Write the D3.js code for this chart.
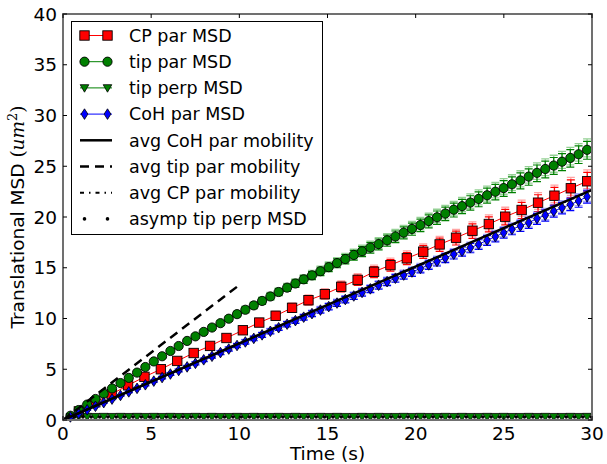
<!DOCTYPE html>
<html>
<head>
<meta charset="utf-8">
<script src="https://cdn.jsdelivr.net/npm/d3@7"></script>
<style>
  body { margin: 0; background: #fff; }
  svg { display: block; font-family: "DejaVu Sans", sans-serif; }
</style>
</head>
<body>
<svg id="chart" width="607" height="464"></svg>
<script>
// Translational MSD vs time — tip / CP / CoH series with error bars,
// plus the fitted mobility lines.

const xTicks = [0, 5, 10, 15, 20, 25, 30];
const yTicks = [0, 5, 10, 15, 20, 25, 30, 35, 40];

// sample times shared by tip par, tip perp and CoH par
const sampleT = [0.42, 0.89, 1.37, 1.84, 2.31, 2.78, 3.26, 3.73, 4.20, 4.67,
  5.15, 5.62, 6.09, 6.56, 7.04, 7.51, 7.98, 8.45, 8.93, 9.40,
  9.87, 10.34, 10.82, 11.29, 11.76, 12.23, 12.71, 13.18, 13.65, 14.12,
  14.60, 15.07, 15.54, 16.01, 16.49, 16.96, 17.43, 17.90, 18.38, 18.85,
  19.32, 19.79, 20.27, 20.74, 21.21, 21.68, 22.16, 22.63, 23.10, 23.57,
  24.05, 24.52, 24.99, 25.46, 25.94, 26.41, 26.88, 27.35, 27.83, 28.30,
  28.77, 29.24, 29.72];

const tipParMSD = [0.42, 0.98, 1.52, 2.07, 2.59, 3.11, 3.64, 4.15, 4.67, 5.22,
  5.77, 6.28, 6.80, 7.29, 7.79, 8.24, 8.68, 9.11, 9.54, 9.98,
  10.43, 10.86, 11.29, 11.73, 12.17, 12.61, 13.04, 13.45, 13.86, 14.25,
  14.66, 15.06, 15.46, 15.86, 16.26, 16.62, 16.99, 17.33, 17.70, 18.08,
  18.46, 18.83, 19.21, 19.60, 19.97, 20.34, 20.72, 21.07, 21.42, 21.78,
  22.14, 22.49, 22.85, 23.22, 23.60, 23.98, 24.35, 24.73, 25.07, 25.45,
  25.82, 26.18, 26.62];
const tipParErr = [0.02, 0.03, 0.04, 0.05, 0.06, 0.08, 0.09, 0.10, 0.11, 0.13,
  0.14, 0.16, 0.17, 0.18, 0.20, 0.21, 0.22, 0.24, 0.25, 0.27,
  0.28, 0.30, 0.31, 0.33, 0.34, 0.36, 0.37, 0.39, 0.40, 0.42,
  0.43, 0.45, 0.46, 0.48, 0.50, 0.52, 0.54, 0.56, 0.58, 0.60,
  0.62, 0.63, 0.65, 0.67, 0.69, 0.70, 0.72, 0.74, 0.75, 0.77,
  0.78, 0.80, 0.81, 0.82, 0.83, 0.85, 0.86, 0.87, 0.88, 0.89,
  0.90, 0.91, 0.93];

const cohParMSD = [0.30, 0.64, 1.00, 1.35, 1.71, 2.06, 2.42, 2.77, 3.12, 3.47,
  3.83, 4.18, 4.53, 4.88, 5.23, 5.58, 5.93, 6.28, 6.64, 6.99,
  7.34, 7.69, 8.04, 8.39, 8.74, 9.09, 9.44, 9.79, 10.13, 10.48,
  10.83, 11.17, 11.52, 11.87, 12.22, 12.57, 12.92, 13.28, 13.63, 13.97,
  14.28, 14.58, 14.93, 15.28, 15.62, 15.97, 16.33, 16.62, 16.97, 17.31,
  17.71, 18.07, 18.45, 18.79, 19.12, 19.44, 19.85, 20.18, 20.57, 20.91,
  21.23, 21.58, 22.00];
const cohParErr = [0.01, 0.02, 0.03, 0.04, 0.05, 0.06, 0.07, 0.08, 0.09, 0.10,
  0.11, 0.12, 0.13, 0.14, 0.15, 0.16, 0.17, 0.18, 0.19, 0.20,
  0.21, 0.22, 0.23, 0.24, 0.25, 0.26, 0.27, 0.28, 0.29, 0.30,
  0.31, 0.32, 0.33, 0.34, 0.35, 0.36, 0.37, 0.38, 0.39, 0.40,
  0.41, 0.42, 0.43, 0.44, 0.45, 0.46, 0.47, 0.48, 0.49, 0.50,
  0.51, 0.52, 0.53, 0.54, 0.55, 0.56, 0.57, 0.58, 0.59, 0.60,
  0.61, 0.62, 0.63];

const tipPerpMSD = [0.30, 0.33, 0.34, 0.33, 0.34, 0.33, 0.34, 0.33, 0.34, 0.33,
  0.34, 0.33, 0.34, 0.33, 0.33, 0.34, 0.33, 0.34, 0.33, 0.33,
  0.34, 0.33, 0.34, 0.33, 0.33, 0.34, 0.33, 0.34, 0.33, 0.33,
  0.34, 0.33, 0.34, 0.33, 0.33, 0.34, 0.33, 0.34, 0.33, 0.33,
  0.34, 0.33, 0.34, 0.33, 0.33, 0.34, 0.33, 0.34, 0.33, 0.33,
  0.34, 0.33, 0.34, 0.33, 0.33, 0.34, 0.33, 0.34, 0.33, 0.33,
  0.34, 0.33, 0.34];

// CP par is sampled at its own times
const cpT = [0.90, 1.83, 2.76, 3.69, 4.62, 5.55, 6.48, 7.41, 8.34, 9.27,
  10.20, 11.13, 12.06, 12.99, 13.92, 14.85, 15.78, 16.71, 17.64, 18.57,
  19.50, 20.43, 21.36, 22.29, 23.22, 24.15, 25.08, 26.01, 26.94, 27.87,
  28.80, 29.73];
const cpParMSD = [0.85, 1.75, 2.55, 3.42, 4.25, 5.00, 5.82, 6.60, 7.30, 8.08,
  8.84, 9.60, 10.27, 11.05, 11.80, 12.40, 13.12, 13.80, 14.60, 15.26,
  15.93, 16.58, 17.30, 17.96, 18.65, 19.31, 20.03, 20.69, 21.41, 22.10,
  22.83, 23.52];
const cpParErr = [0.03, 0.06, 0.09, 0.12, 0.15, 0.18, 0.21, 0.24, 0.27, 0.30,
  0.33, 0.36, 0.39, 0.42, 0.45, 0.48, 0.51, 0.54, 0.57, 0.60,
  0.63, 0.66, 0.69, 0.72, 0.75, 0.78, 0.81, 0.84, 0.87, 0.90,
  0.93, 0.97];

// asymptotic tip perp MSD, drawn as dots
const asympT = [0.66, 1.13, 1.60, 2.08, 2.55, 3.02, 3.49, 3.97, 4.44, 4.91,
  5.38, 5.86, 6.33, 6.80, 7.27, 7.75, 8.22, 8.69, 9.16, 9.64,
  10.11, 10.58, 11.05, 11.53, 12.00, 12.47, 12.94, 13.42, 13.89, 14.36,
  14.83, 15.31, 15.78, 16.25, 16.72, 17.20, 17.67, 18.14, 18.61, 19.09,
  19.56, 20.03, 20.50, 20.98, 21.45, 21.92, 22.39, 22.87, 23.34, 23.81,
  24.28, 24.76, 25.23, 25.70, 26.17, 26.65, 27.12, 27.59, 28.06, 28.54,
  29.01, 29.48, 29.95];
const asympTipPerp = 0.3;

// fitted mobility lines: [t, MSD] endpoints
const cohMobility = [[0, 0], [30, 22.68]];
const tipMobility = [[0, 0], [10, 13.3]];
const cpMobility = [[0, 0], [10, 7.56]];

const legendLabels = ["CP par MSD", "tip par MSD", "tip perp MSD", "CoH par MSD",
  "avg CoH par mobility", "avg tip par mobility", "avg CP par mobility",
  "asymp tip perp MSD"];

const M = { left: 63, right: 592, top: 14, bottom: 420 };
const TICK_FONT = 18.5;
const LEGEND_FONT = 17.5;

const svg = d3.select("#chart");
const x = d3.scaleLinear().domain([0, 30]).range([M.left, M.right]);
const y = d3.scaleLinear().domain([0, 40]).range([M.bottom, M.top]);

const GREEN = "#008000";
const RED = "#ff0000";
const BLUE = "#0000ff";

const zip = (ts, vs, es) => ts.map((t, i) => ({ t, v: vs[i], e: es ? es[i] : 0 }));
const tipPar = zip(sampleT, tipParMSD, tipParErr);
const cohPar = zip(sampleT, cohParMSD, cohParErr);
const tipPerp = zip(sampleT, tipPerpMSD);
const cpPar = zip(cpT, cpParMSD, cpParErr);

const lineGen = d3.line().x((d) => x(d.t)).y((d) => y(d.v));
const segGen = d3.line().x((d) => x(d[0])).y((d) => y(d[1]));

const plot = svg.append("g");

// ---------- marker shapes ----------
function drawMarker(g, kind, fill) {
  if (kind === "square") {
    g.append("rect").attr("x", -4.7).attr("y", -4.7).attr("width", 9.4).attr("height", 9.4)
      .attr("fill", fill).attr("stroke", "#000").attr("stroke-width", 0.9);
  } else if (kind === "circle") {
    g.append("circle").attr("r", 4.6)
      .attr("fill", fill).attr("stroke", "#000").attr("stroke-width", 0.9);
  } else if (kind === "tri") {
    g.append("path").attr("d", "M-4.3,-3.2L4.3,-3.2L0,4.3Z")
      .attr("fill", fill).attr("stroke", "#000").attr("stroke-width", 0.8);
  } else if (kind === "diamond") {
    g.append("path").attr("d", "M0,-5.3L3.4,0L0,5.3L-3.4,0Z")
      .attr("fill", fill).attr("stroke", "#000").attr("stroke-width", 0.8);
  } else if (kind === "dot") {
    g.append("circle").attr("r", 1.8).attr("fill", "#000");
  }
}

function errorBars(data, color, light) {
  const g = plot.append("g");
  const cap = 4;
  // lighter translucent layer slightly shifted upward
  data.forEach((d) => {
    if (d.e <= 0) return;
    const lo = y(d.v - 0.75 * d.e), hi = y(d.v + 1.15 * d.e), cx = x(d.t);
    g.append("path")
      .attr("d", `M${cx},${lo}V${hi}M${cx - cap},${lo}H${cx + cap}M${cx - cap},${hi}H${cx + cap}`)
      .attr("stroke", light).attr("stroke-width", 1.3).attr("fill", "none");
  });
  data.forEach((d) => {
    if (d.e <= 0) return;
    const lo = y(d.v - d.e), hi = y(d.v + 0.9 * d.e), cx = x(d.t);
    g.append("path")
      .attr("d", `M${cx},${lo}V${hi}M${cx - cap},${lo}H${cx + cap}M${cx - cap},${hi}H${cx + cap}`)
      .attr("stroke", color).attr("stroke-width", 1.2).attr("fill", "none");
  });
}

function series(data, color, kind, fill) {
  plot.append("path").datum(data).attr("d", lineGen)
    .attr("fill", "none").attr("stroke", color).attr("stroke-width", 1);
  const g = plot.append("g");
  data.forEach((d) => {
    const m = g.append("g").attr("transform", `translate(${x(d.t)},${y(d.v)})`);
    drawMarker(m, kind, fill);
  });
}

// ---------- data layers ----------
errorBars(cpPar, RED, "rgba(255,90,90,0.55)");
series(cpPar, RED, "square", RED);

errorBars(tipPar, GREEN, "rgba(60,170,60,0.55)");
series(tipPar, GREEN, "circle", GREEN);

series(tipPerp, GREEN, "tri", GREEN);

errorBars(cohPar, BLUE, "rgba(90,90,255,0.55)");
series(cohPar, BLUE, "diamond", BLUE);

plot.append("path").datum(cpMobility).attr("d", segGen)
  .attr("fill", "none").attr("stroke", "#000").attr("stroke-width", 2)
  .attr("stroke-dasharray", "7,3,2,3");
plot.append("path").datum(cohMobility).attr("d", segGen)
  .attr("fill", "none").attr("stroke", "#000").attr("stroke-width", 2.5);
plot.append("path").datum(tipMobility).attr("d", segGen)
  .attr("fill", "none").attr("stroke", "#000").attr("stroke-width", 2.5)
  .attr("stroke-dasharray", "9,6");

const dotG = plot.append("g");
asympT.forEach((t) => {
  const m = dotG.append("g").attr("transform", `translate(${x(t)},${y(asympTipPerp)})`);
  drawMarker(m, "dot");
});

// ---------- frame & ticks ----------
const frame = svg.append("g");
frame.append("rect")
  .attr("x", M.left).attr("y", M.top)
  .attr("width", M.right - M.left).attr("height", M.bottom - M.top)
  .attr("fill", "none").attr("stroke", "#707070").attr("stroke-width", 2);

const TL = 4;
xTicks.forEach((t) => {
  frame.append("line").attr("x1", x(t)).attr("x2", x(t))
    .attr("y1", M.bottom).attr("y2", M.bottom - TL).attr("stroke", "#000");
  frame.append("line").attr("x1", x(t)).attr("x2", x(t))
    .attr("y1", M.top).attr("y2", M.top + TL).attr("stroke", "#000");
  frame.append("text").attr("x", x(t)).attr("y", M.bottom + 20)
    .attr("text-anchor", "middle").attr("font-size", TICK_FONT).text(t);
});
yTicks.forEach((v) => {
  frame.append("line").attr("x1", M.left).attr("x2", M.left + TL)
    .attr("y1", y(v)).attr("y2", y(v)).attr("stroke", "#000");
  frame.append("line").attr("x1", M.right).attr("x2", M.right - TL)
    .attr("y1", y(v)).attr("y2", y(v)).attr("stroke", "#000");
  frame.append("text").attr("x", M.left - 6).attr("y", y(v)).attr("dy", "0.36em")
    .attr("text-anchor", "end").attr("font-size", TICK_FONT).text(v);
});

svg.append("text").attr("x", (M.left + M.right) / 2).attr("y", 460)
  .attr("text-anchor", "middle").attr("font-size", TICK_FONT).text("Time (s)");

const yl = svg.append("text")
  .attr("transform", `translate(24,${(M.top + M.bottom) / 2}) rotate(-90)`)
  .attr("text-anchor", "middle").attr("font-size", TICK_FONT);
yl.append("tspan").text("Translational MSD ");
yl.append("tspan").attr("font-family", "DejaVu Serif").text("(");
yl.append("tspan").attr("font-family", "DejaVu Serif").attr("font-style", "italic").text("um");
yl.append("tspan").attr("font-family", "DejaVu Serif").attr("font-size", 13).attr("dy", -7).text("2");
yl.append("tspan").attr("font-family", "DejaVu Serif").attr("dy", 7).text(")");

// ---------- legend ----------
const leg = svg.append("g");
leg.append("rect").attr("x", 71.5).attr("y", 21.5).attr("width", 251).attr("height", 213)
  .attr("fill", "#fff").attr("stroke", "#000").attr("stroke-width", 1);

const legendStyles = [
  { line: RED, lw: 1, marker: "square", fill: RED },
  { line: GREEN, lw: 1, marker: "circle", fill: GREEN },
  { line: GREEN, lw: 1, marker: "tri", fill: GREEN },
  { line: BLUE, lw: 1, marker: "diamond", fill: BLUE },
  { line: "#000", lw: 2.5 },
  { line: "#000", lw: 2.5, dash: "9,6" },
  { line: "#000", lw: 2, dash: "4,5,1.5,5" },
  { marker: "dot" },
];

legendLabels.forEach((label, i) => {
  const cy = 35.5 + i * 26.2;
  const s = legendStyles[i];
  const g = leg.append("g");
  if (s.line) {
    g.append("line").attr("x1", 80).attr("x2", 112).attr("y1", cy).attr("y2", cy)
      .attr("stroke", s.line).attr("stroke-width", s.lw)
      .attr("stroke-dasharray", s.dash || null);
  }
  if (s.marker) {
    [84.5, 107.5].forEach((mx) => {
      drawMarker(g.append("g").attr("transform", `translate(${mx},${cy})`), s.marker, s.fill);
    });
  }
  g.append("text").attr("x", 129).attr("y", cy).attr("dy", "0.36em")
    .attr("font-size", LEGEND_FONT).text(label);
});
</script>
</body>
</html>
